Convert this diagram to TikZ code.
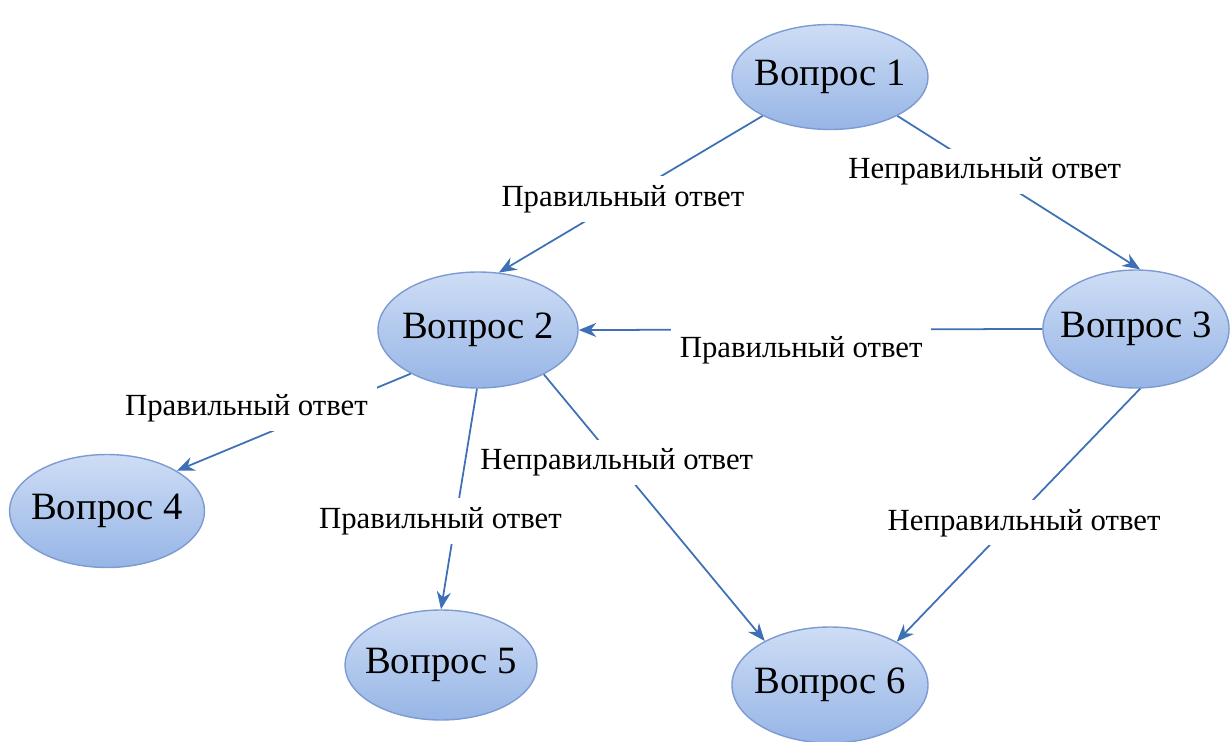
\documentclass[tikz,border=0pt]{standalone}
\usepackage{fontspec}
\setmainfont{Liberation Serif}
\usetikzlibrary{positioning,shapes.geometric,arrows.meta}

\definecolor{linkblue}{RGB}{62,112,182}
\definecolor{rimblue}{RGB}{125,155,210}
\definecolor{topblue}{RGB}{206,221,245}
\definecolor{lowblue}{RGB}{150,181,230}

\begin{document}
\begin{tikzpicture}[thick,
                       question/.style={ellipse,draw=rimblue,line width=0.8pt,
                                        top color=topblue,bottom color=lowblue,
                                        inner xsep=-0.2cm,inner ysep=0pt,
                                        font=\fontsize{22}{26}\selectfont},
                       answer/.style={fill=white,inner sep=5pt,
                                      font=\fontsize{17.5}{21}\selectfont},
                       link/.style={draw=linkblue,line width=1pt,
                                    -{Stealth[length=10pt,width=8pt]}}
                           ]
   \useasboundingbox (0,0) rectangle (24.62,-14.84);
   \clip (0,0) rectangle (24.62,-14.84);
   \node[question,minimum width=3.92cm,minimum height=2.1cm]  (v1) at (16.6,-1.54) {Вопрос 1};
   \node[question,minimum width=4.0cm,minimum height=2.32cm]  (v2) at (9.56,-6.6)  {Вопрос 2};
   \node[question,minimum width=3.7cm,minimum height=2.36cm]  (v3) at (22.72,-6.58) {Вопрос 3};
   \node[question,minimum width=3.9cm,minimum height=2.26cm]  (v4) at (2.14,-10.22) {Вопрос 4};
   \node[question,minimum width=3.84cm,minimum height=2.2cm]  (v5) at (8.82,-13.3) {Вопрос 5};
   \node[question,minimum width=3.92cm,minimum height=2.32cm] (v6) at (16.6,-13.7) {Вопрос 6};
      \path%
    (v1.210) edge [link] node[answer,pos=0.53] {Правильный ответ} (v2.70)
    (v1.330) edge [link] node[answer,pos=0.36] {Неправильный ответ} (v3.86)
    (v3.west) edge [link] node[answer,pos=0.52,yshift=-12pt] {Правильный ответ} (v2.east)
    (v2.213) edge [link] node[answer,pos=0.36,xshift=-1.6cm] {Правильный ответ} (v4.30)
    (v2.269) edge [link] node[answer,pos=0.6,xshift=-0.3cm] {Правильный ответ} (v5.90)
    (v2.326) edge [link] node[answer,pos=0.33] {Неправильный ответ} (v6.146)
    (v3.274) edge [link] node[answer,pos=0.53,xshift=0.26cm] {Неправильный ответ} (v6.33);
      \end{tikzpicture}
\end{document}
